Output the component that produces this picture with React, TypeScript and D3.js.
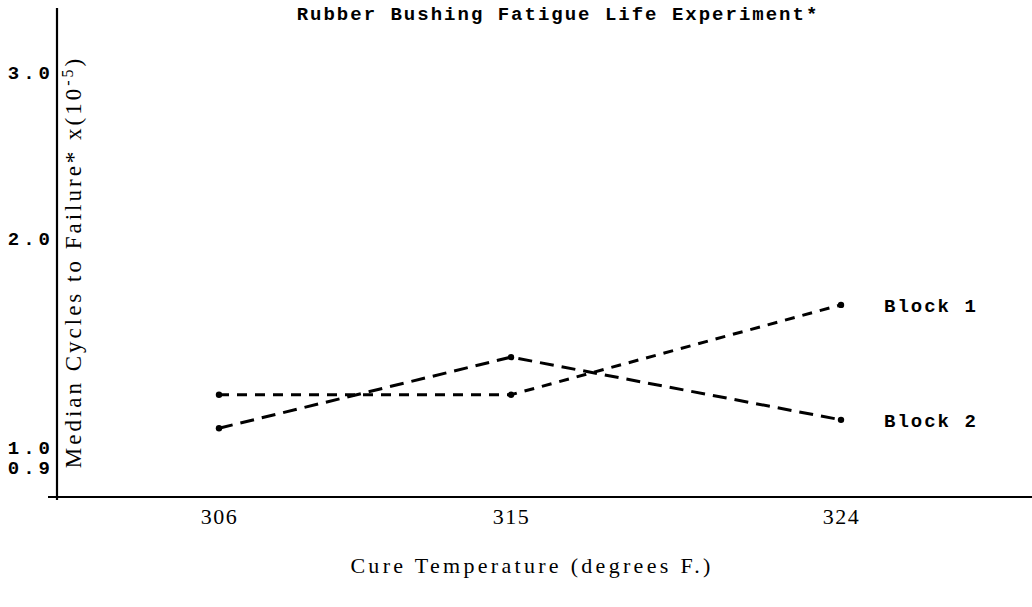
import React, { useEffect, useRef } from 'react'
import * as d3 from 'd3'

const temps = [306, 315, 324]
const block1 = [1.25, 1.25, 1.68]
const block2 = [1.09, 1.43, 1.13]
const yTicks = [0.9, 1.0, 2.0, 3.0]
const seriesNames = ['Block 1', 'Block 2']

export default function App() {
  const ref = useRef<SVGSVGElement>(null)

  useEffect(() => {
    const svg = d3.select(ref.current)
    svg.selectAll('*').remove()

    // the scanned figure is not evenly spaced, so map through its tick positions
    const x = d3.scaleLinear().domain([306, 315, 324]).range([219, 511, 841])
    const y = d3.scaleLinear().domain([0.9, 1.0, 2.0, 3.0]).range([467, 447, 238, 72])

    const typeFont = '"Liberation Mono", monospace'
    const serif = '"Liberation Serif", serif'

    // axes lines
    svg.append('line').attr('x1', 57).attr('x2', 57).attr('y1', 8).attr('y2', 500)
      .attr('stroke', '#000').attr('stroke-width', 2.2)
    svg.append('line').attr('x1', 48).attr('x2', 1032).attr('y1', 497).attr('y2', 497)
      .attr('stroke', '#000').attr('stroke-width', 2.2)

    const yAxis = svg.append('g')
      .attr('transform', 'translate(55,0)')
      .call(d3.axisLeft(y).tickValues(yTicks).tickSize(0).tickPadding(1).tickFormat(d3.format('.1f')))
    yAxis.select('.domain').remove()
    yAxis.selectAll('text')
      .attr('font-family', typeFont).attr('font-size', 19).attr('letter-spacing', 4)
      .attr('font-weight', 'bold').attr('fill', '#000')

    const xAxis = svg.append('g')
      .attr('transform', 'translate(0,497)')
      .call(d3.axisBottom(x).tickValues(temps).tickSize(0).tickPadding(11).tickFormat(d3.format('d')))
    xAxis.select('.domain').remove()
    xAxis.selectAll('text')
      .attr('font-family', serif).attr('font-size', 22).attr('letter-spacing', 1.5)
      .attr('fill', '#000')

    const line = d3.line<number>().x((d, i) => x(temps[i])).y(d => y(d))

    const series = [
      { name: seriesNames[0], values: block1, dash: '10,8' },
      { name: seriesNames[1], values: block2, dash: '14,8' },
    ]

    series.forEach(s => {
      svg.append('path')
        .attr('d', line(s.values))
        .attr('fill', 'none')
        .attr('stroke', '#000')
        .attr('stroke-width', 3)
        .attr('stroke-dasharray', s.dash)
      svg.append('g').selectAll('circle')
        .data(s.values)
        .join('circle')
        .attr('cx', (d, i) => x(temps[i]))
        .attr('cy', d => y(d))
        .attr('r', 3.2)
        .attr('fill', '#000')
      const last = s.values[s.values.length - 1]
      svg.append('text')
        .attr('x', 884)
        .attr('y', y(last) + 7)
        .attr('font-family', typeFont)
        .attr('font-size', 19)
        .attr('font-weight', 'bold')
        .attr('letter-spacing', 2)
        .text(s.name)
    })

    svg.append('text')
      .attr('x', 558).attr('y', 20)
      .attr('text-anchor', 'middle')
      .attr('font-family', typeFont).attr('font-size', 19).attr('letter-spacing', 2)
      .attr('font-weight', 'bold')
      .text('Rubber Bushing Fatigue Life Experiment*')

    svg.append('text')
      .attr('x', 532).attr('y', 573)
      .attr('text-anchor', 'middle')
      .attr('font-family', serif).attr('font-size', 22).attr('letter-spacing', 3.3)
      .text('Cure Temperature (degrees F.)')

    const yl = svg.append('text')
      .attr('transform', 'translate(81,262) rotate(-90)')
      .attr('text-anchor', 'middle')
      .attr('font-family', serif).attr('font-size', 23).attr('letter-spacing', 3)
    yl.append('tspan').text('Median Cycles to Failure* x(10')
    yl.append('tspan').attr('dy', -8).attr('font-size', 16).text('-5')
    yl.append('tspan').attr('dy', 8).text(')')
  }, [])

  return (
    <svg ref={ref} width={1032} height={607}
      style={{ position: 'absolute', left: 0, top: 0, background: '#fff' }} />
  )
}
